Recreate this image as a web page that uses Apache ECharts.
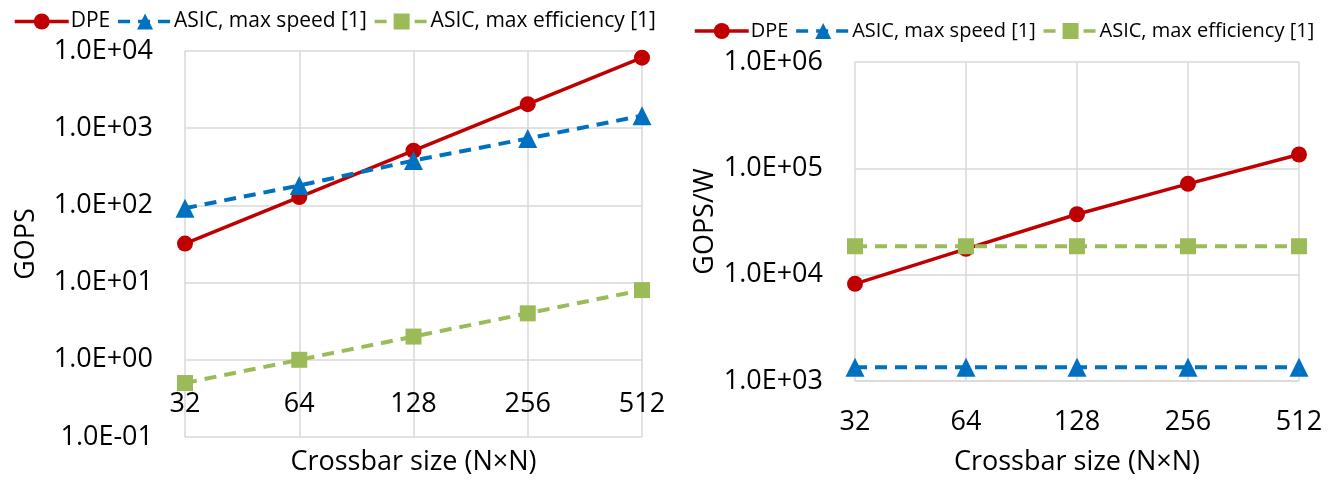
<!DOCTYPE html>
<html>
<head>
<meta charset="utf-8">
<script src="https://cdn.jsdelivr.net/npm/echarts@6/dist/echarts.min.js"></script>
<style>
html,body{margin:0;padding:0;background:#fff;}
#c{width:1334px;height:481px;}
</style>
</head>
<body>
<div id="c"></div>
<script>
// ---- data ----
const categories = ['32', '64', '128', '256', '512'];
const seriesNames = ['DPE', 'ASIC, max speed [1]', 'ASIC, max efficiency [1]'];
// Left chart: GOPS
const gopsDPE = [32, 128, 512, 2048, 8192];
const gopsSpeed = [92, 181, 381, 735, 1450];
const gopsEff = [0.5, 1, 2, 4, 8];
// Right chart: GOPS/W
const gopswDPE = [8200, 17500, 37000, 71500, 135000];
const gopswSpeed = [1350, 1350, 1350, 1350, 1350];
const gopswEff = [18500, 18500, 18500, 18500, 18500];

// ---- styling ----
const FONT = 'Open Sans';
const RED = '#C00000', BLUE = '#0070C0', GREEN = '#9BBB59';
const GRID = '#d9d9d9';

function sci(v) {
  const e = Math.round(Math.log10(v));
  const m = v / Math.pow(10, e);
  return m.toFixed(1) + 'E' + (e < 0 ? '-' : '+') + String(Math.abs(e)).padStart(2, '0');
}

function mkSeries(name, data, xi, color, symbol, size, dashed) {
  return {
    name: name, type: 'line', xAxisIndex: xi, yAxisIndex: xi, data: data,
    symbol: symbol, symbolSize: size,
    itemStyle: { color: color },
    lineStyle: { color: color, width: dashed ? 4 : 3.5, type: dashed ? [12, 8] : 'solid' },
    emphasis: { disabled: true }, animation: false
  };
}

function yAxis(gi, min, max, nameGap) {
  return {
    type: 'log', logBase: 10, gridIndex: gi, min: min, max: max,
    name: gi === 0 ? 'GOPS' : 'GOPS/W', nameLocation: 'middle', nameGap: nameGap,
    nameTextStyle: { fontFamily: FONT, fontSize: 27, color: '#000' },
    axisLine: { show: false }, axisTick: { show: false },
    axisLabel: { fontFamily: FONT, fontSize: 27, color: '#000', margin: 32, formatter: sci },
    splitLine: { show: true, lineStyle: { color: GRID, width: 1.5 } },
    minorTick: { show: false }
  };
}

function xAxis(gi, offset, margin, nameGap) {
  return {
    type: 'category', gridIndex: gi, data: categories, boundaryGap: false,
    offset: offset,
    name: 'Crossbar size (N\u00d7N)', nameLocation: 'middle', nameGap: nameGap,
    nameTextStyle: { fontFamily: FONT, fontSize: 27, color: '#000' },
    axisLine: { show: false }, axisTick: { show: false },
    axisLabel: { fontFamily: FONT, fontSize: 27, color: '#000', margin: margin },
    splitLine: { show: true, lineStyle: { color: GRID, width: 1.5 } }
  };
}

function legend(id, left, top, fs) {
  return {
    id: id, left: left, top: top, width: 720, orient: 'horizontal',
    itemWidth: 54, itemHeight: 20, itemGap: 6,
    lineStyle: { width: 3.5 },
    textStyle: { fontFamily: FONT, fontSize: fs, color: '#000', padding: [0, 0, 0, -3] },
    data: seriesNames, selectedMode: false
  };
}

const chart = echarts.init(document.getElementById('c'), null, { renderer: 'canvas' });
chart.setOption({
  backgroundColor: '#fff',
  animation: false,
  legend: [
    legend('l0', 8, 6, 21),
    legend('l1', 688, 16, 20)
  ],
  grid: [
    { left: 185, top: 51, width: 457, height: 387, containLabel: false },
    { left: 855, top: 62, width: 444, height: 324, containLabel: false }
  ],
  xAxis: [xAxis(0, -54, 8, 66), xAxis(1, 0, 28, 68)],
  yAxis: [yAxis(0, 0.1, 10000, 145), yAxis(1, 1000, 1000000, 136)],
  series: [
    mkSeries(seriesNames[0], gopsDPE, 0, RED, 'circle', 16, false),
    mkSeries(seriesNames[1], gopsSpeed, 0, BLUE, 'triangle', 19, true),
    mkSeries(seriesNames[2], gopsEff, 0, GREEN, 'rect', 16, true),
    mkSeries(seriesNames[0], gopswDPE, 1, RED, 'circle', 16, false),
    mkSeries(seriesNames[1], gopswSpeed, 1, BLUE, 'triangle', 19, true),
    mkSeries(seriesNames[2], gopswEff, 1, GREEN, 'rect', 16, true)
  ]
});
</script>
</body>
</html>
